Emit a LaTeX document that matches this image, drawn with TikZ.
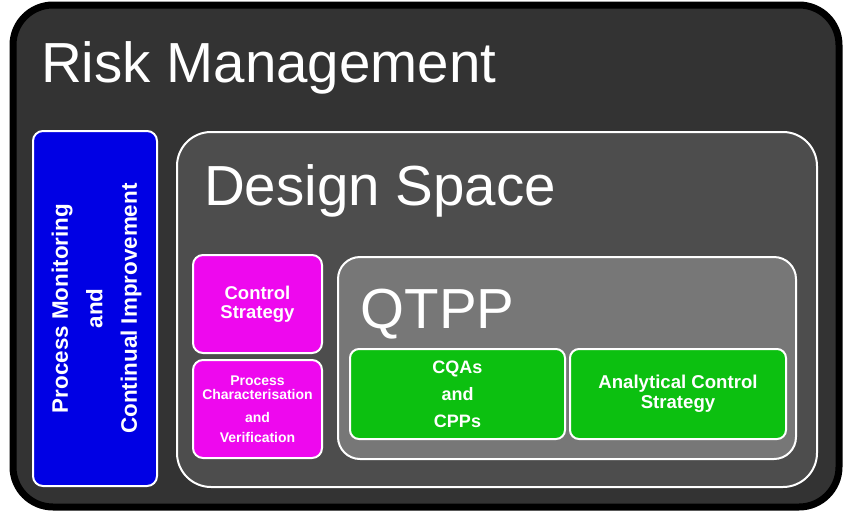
\documentclass[tikz,border=0pt]{standalone}
\usepackage{fontspec}
\setmainfont{Liberation Sans}
\definecolor{outerfill}{HTML}{333333}
\definecolor{dsfill}{HTML}{4D4D4D}
\definecolor{qtfill}{HTML}{777777}
\definecolor{pmblue}{RGB}{0,0,228}
\definecolor{csmag}{RGB}{238,8,238}
\definecolor{qgreen}{RGB}{12,192,16}
\tikzset{
  wbox/.style={draw=white, line width=2pt},
  title/.style={anchor=base west, inner sep=0pt, text=white, font=\fontsize{56.5}{60}\selectfont},
  boxtext/.style={text=white, align=center, inner sep=0pt, font=\bfseries},
  smallbox/.style={wbox, rounded corners=10pt, inner sep=0pt},
}
\begin{document}
\begin{tikzpicture}[x=1pt,y=-1pt]
\useasboundingbox (0,0) rectangle (847,512);
% outer
\draw[draw=black, line width=7pt, fill=outerfill, rounded corners=40pt] (13,5) rectangle (839,507);
\node[title] (rm) at (41,82) {Risk Management};
% blue
\draw[wbox, fill=pmblue, rounded corners=10pt] (33,131) rectangle (157,486);
\node[boxtext, rotate=90, font=\bfseries\fontsize{22.4}{34.5}\selectfont] (pm) at (96.5,308.5)
  {Process Monitoring\\and\\Continual Improvement};
% design space
\draw[wbox, fill=dsfill, rounded corners=34pt] (177,132) rectangle (817,487);
\node[title] (ds) at (204,205) {Design Space};
% magenta
\node[smallbox, fill=csmag, minimum width=129pt, minimum height=98pt] (csbox) at (257.5,304) {};
\node[boxtext, font=\bfseries\fontsize{18.5}{19}\selectfont] (cs) at (csbox.center) {Control\\Strategy};
\node[smallbox, fill=csmag, minimum width=129pt, minimum height=98pt] (pcbox) at (257.5,409) {};
\node[boxtext, font=\bfseries\fontsize{14}{14.5}\selectfont] (pc) at (pcbox.center)
  {Process\\Characterisation\\[8.5pt]and\\[5.5pt]Verification};
% QTPP
\draw[wbox, fill=qtfill, rounded corners=22pt] (338,257) rectangle (796,459);
\node[title] (qt) at (360.5,328) {QTPP};
% green
\node[smallbox, rounded corners=9pt, fill=qgreen, minimum width=215pt, minimum height=90pt] (cqbox) at (457.5,394) {};
\node[boxtext, font=\bfseries\fontsize{18}{27}\selectfont] (cq) at (cqbox.center) {CQAs\\and\\CPPs};
\node[smallbox, rounded corners=9pt, fill=qgreen, minimum width=216pt, minimum height=90pt] (acbox) at (678,394) {};
\node[boxtext, font=\bfseries\fontsize{18.6}{20}\selectfont] (ac) at (acbox.center) {Analytical Control\\Strategy};
\end{tikzpicture}
\end{document}
